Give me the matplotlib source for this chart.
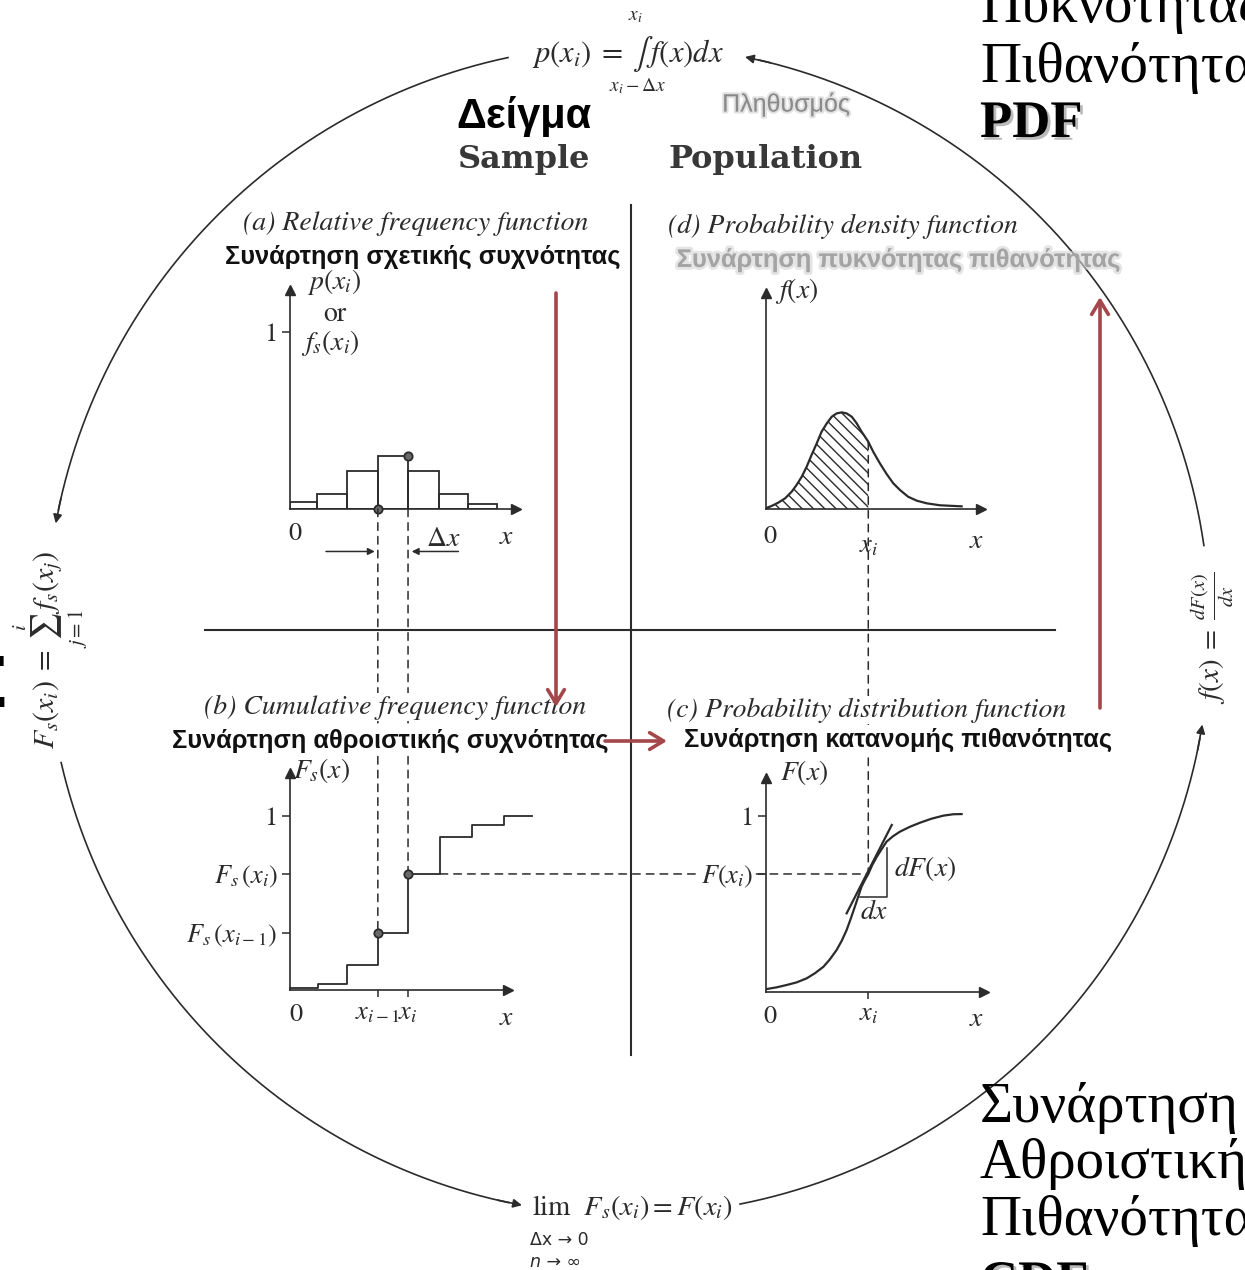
import numpy as np
import matplotlib.pyplot as plt
import matplotlib.patheffects as pe
from matplotlib.patches import ConnectionPatch

plt.rcParams['mathtext.fontset'] = 'stix'
plt.rcParams['font.family'] = ['STIXGeneral', 'DejaVu Sans']

W, H = 1245, 1270
ink = '#2b2b2b'
red = '#a3474a'

# DATA (x in bin widths, y in probability)
## (a) relative frequency histogram
rel_edges = [0.0, 0.9, 1.87, 2.88, 3.87, 4.88, 5.85, 6.8]
rel_freq = [0.04, 0.085, 0.215, 0.30, 0.215, 0.085, 0.03]
## (b) cumulative frequency steps
cum_x = [0.0, 0.92, 1.88, 2.88, 3.87, 4.92, 5.96, 7.0, 7.92]
cum_f = [0.01, 0.033, 0.144, 0.33, 0.667, 0.877, 0.948, 1.0, 1.0]
## (c) probability distribution function
cdf_x = [0.0, 0.37, 0.69, 1.02, 1.35, 1.62, 1.90, 2.11, 2.33, 2.50, 2.66, 2.80, 2.93, 3.04, 3.15, 3.26,
         3.37, 3.50, 3.65, 3.81, 3.97, 4.19, 4.41, 4.74, 5.07, 5.45, 5.83, 6.16, 6.43]
cdf_y = [0.014, 0.025, 0.038, 0.053, 0.076, 0.105, 0.142, 0.184, 0.237, 0.290, 0.351, 0.418, 0.484, 0.541,
         0.598, 0.636, 0.670, 0.721, 0.768, 0.812, 0.854, 0.886, 0.911, 0.939, 0.962, 0.985, 1.002, 1.010, 1.011]
tan_x = [2.66, 4.14]
tan_y = [0.446, 0.949]
tri_x = [3.10, 3.97, 3.97]
tri_y = [0.541, 0.541, 0.816]
## (d) probability density function
pdf_x = [0.0, 0.20, 0.42, 0.64, 0.86, 1.02, 1.19, 1.35, 1.51, 1.68, 1.84, 2.01, 2.17, 2.33, 2.50, 2.66,
         2.83, 2.99, 3.15, 3.37, 3.53, 3.75, 3.97, 4.19, 4.41, 4.68, 4.96, 5.29, 5.72, 6.43]
pdf_y = [0.004, 0.017, 0.036, 0.060, 0.098, 0.136, 0.183, 0.239, 0.305, 0.371, 0.437, 0.484, 0.521, 0.540,
         0.546, 0.540, 0.521, 0.484, 0.437, 0.380, 0.324, 0.258, 0.198, 0.145, 0.107, 0.069, 0.047, 0.032,
         0.021, 0.015]
## marked points
x_prev, x_i = 2.88, 3.87          # sample x_{i-1}, x_i
Fs_prev, Fs_i = 0.33, 0.667       # F_s(x_{i-1}), F_s(x_i)
xi_pop, F_xi = 3.37, 0.670        # population x_i, F(x_i)

fig = plt.figure(figsize=(W / 100, H / 100), dpi=100)

# BACKGROUND LAYER (pixel coords)
ov = fig.add_axes([0, 0, 1, 1])
ov.set_xlim(0, W)
ov.set_ylim(H, 0)
ov.axis('off')

##big circle in four arrowed arcs
cx, cy, rx, ry = 628, 630, 582, 585
for a0, a1 in [(101.9, 169.5), (193.1, 259.5), (281.1, 350.7), (8.3, 78.4)]:
    t = np.radians(np.linspace(a0, a1, 300))
    xs = cx + rx * np.cos(t)
    ys = cy - ry * np.sin(t)
    ov.plot(xs[:-6], ys[:-6], color=ink, lw=1.2)
    ov.annotate('', xy=(xs[-1], ys[-1]), xytext=(xs[-12], ys[-12]),
                arrowprops=dict(arrowstyle='-|>', color=ink, lw=1.2, mutation_scale=13, shrinkA=0, shrinkB=0))

##dividers
ov.plot([631, 631], [205, 1055], color=ink, lw=1.5)
ov.plot([205, 1055], [630, 630], color=ink, lw=1.5)

##formulas round the circle
ov.text(532, 62, r'$p(x_i)\;=\;\int\,f(x)dx$', fontsize=22, color=ink, va='baseline')
ov.text(635, 16, r'$x_i$', fontsize=14, color=ink, ha='center', va='center')
ov.text(638, 86, r'$x_i-\Delta x$', fontsize=14, color=ink, ha='center', va='center')
ov.text(50, 650, r'$F_s(x_i)\;=\sum_{j=1}^{i}f_s(x_j)$', fontsize=21.5, color=ink, rotation=90,
        ha='center', va='center')
ov.text(1213, 638, r'$f(x)\;=\;\frac{dF(x)}{dx}$', fontsize=21, color=ink, rotation=90,
        ha='center', va='center')
ov.text(532, 1215, r'$\mathrm{lim}\ \ F_s(x_i) = F(x_i)$', fontsize=20.5, color=ink, va='baseline')
ov.text(530, 1240, 'Δx → 0', fontsize=12.5, color=ink, va='center', family='DejaVu Sans')
ov.text(530, 1262, 'n → ∞', fontsize=12.5, color=ink, va='center', family='DejaVu Sans', style='italic')

##headings
ov.text(592, 128, 'Δείγμα', family='Liberation Sans', weight='bold', fontsize=30, ha='right', va='baseline')
ov.text(590, 168, 'Sample', family='DejaVu Serif', weight='bold', fontsize=23, color='#383838',
        ha='right', va='baseline')
ov.text(668, 168, 'Population', family='DejaVu Serif', weight='bold', fontsize=23, color='#383838',
        ha='left', va='baseline')
ov.text(786, 104, 'Πληθυσμός', family='Liberation Sans', fontsize=18, color='#8a8a8a', ha='center',
        va='center', path_effects=[pe.Stroke(linewidth=3, foreground='#cfcfcf', alpha=0.6), pe.Normal()])
ov.text(898, 260, 'Συνάρτηση πυκνότητας πιθανότητας', family='Liberation Sans', weight='bold', fontsize=18.3,
        color='#a4a4a4', ha='center', va='center',
        path_effects=[pe.Stroke(linewidth=4, foreground='#d4d4d4', alpha=0.6), pe.Normal()])

##slide text on the right edge
shadow = [pe.withSimplePatchShadow(offset=(2, -2), shadow_rgbFace='#777777', alpha=0.5)]
for s, y in [('Πυκνότητας', 22), ('Πιθανότητα', 82)]:
    ov.text(980, y, s, family='Liberation Serif', fontsize=41, va='baseline')
ov.text(980, 137, 'PDF', family='Liberation Serif', weight='bold', fontsize=38, va='baseline', path_effects=shadow)
for s, y in [('Συνάρτηση', 1122), ('Αθροιστικής', 1178), ('Πιθανότητα', 1235)]:
    ov.text(980, y, s, family='Liberation Serif', fontsize=41, va='baseline')
ov.text(980, 1297, 'CDF', family='Liberation Serif', weight='bold', fontsize=38, va='baseline', path_effects=shadow)
ov.text(9, 707, 'Σ', family='DejaVu Sans', weight='bold', fontsize=50, ha='right', va='baseline')


# PANELS
def panel(ox, oy, xmax, ymax, uy, ux=30.5):
    ax = fig.add_axes([ox / W, 1 - oy / H, xmax * ux / W, ymax * uy / H])
    ax.set_xlim(0, xmax)
    ax.set_ylim(0, ymax)
    ax.patch.set_visible(False)
    ax.spines[['top', 'right']].set_visible(False)
    ax.spines[['left', 'bottom']].set_color(ink)
    ax.spines[['left', 'bottom']].set_linewidth(1.2)
    ax.plot(1, 0, '>', color=ink, ms=7, transform=ax.get_yaxis_transform(), clip_on=False)
    ax.plot(0, 1, '^', color=ink, ms=7, transform=ax.get_xaxis_transform(), clip_on=False)
    ax.set_xticks([])
    ax.set_yticks([])
    ax.tick_params(colors=ink, labelsize=19, length=6, width=1.1, pad=3)
    return ax


def ends(ax, zero_off, x_off):
    ax.annotate('0', xy=(0, 0), xytext=zero_off, textcoords='offset pixels', fontsize=19, color=ink,
                ha='center', va='center')
    ax.annotate(r'$x$', xy=(1, 0), xycoords='axes fraction', xytext=x_off, textcoords='offset pixels',
                fontsize=20, color=ink, ha='center', va='center')


def link(axA, pA, axB, pB, host):
    con = ConnectionPatch(pA, pB, coordsA=axA.transData, coordsB=axB.transData, color=ink, lw=1.1,
                          ls=(0, (5, 4)), zorder=1, clip_on=False)
    host.add_artist(con)


dot = dict(marker='o', ms=6, mfc='#6a6a6a', mec=ink, mew=1.3, ls='none', zorder=4, clip_on=False)
lab = dict(fontsize=20, color=ink, ha='center', va='center')

##(a) relative frequency
axa = panel(290, 509, 7.4, 1.24, 177)
axa.bar(rel_edges[:-1], rel_freq, width=np.diff(rel_edges), align='edge', fill=False, edgecolor=ink, lw=1.3)
axa.plot([x_prev, x_i], [0, rel_freq[3]], **dot)
axa.set_yticks([1], ['1'])
ends(axa, (5, -25), (-9, -28))
axa.text(1.44, 1.28, r'$p(x_i)$', **lab)
axa.text(1.48, 1.10, 'or', **lab)
axa.text(1.31, 0.94, r'$f_s(x_i)$', **lab)
axa.annotate('', xy=(x_prev - 0.1, -0.24), xytext=(x_prev - 1.7, -0.24), annotation_clip=False,
             arrowprops=dict(arrowstyle='-|>', color=ink, lw=1.1, mutation_scale=10, shrinkA=0, shrinkB=0))
axa.annotate('', xy=(x_i + 0.12, -0.24), xytext=(x_i + 1.65, -0.24), annotation_clip=False,
             arrowprops=dict(arrowstyle='-|>', color=ink, lw=1.1, mutation_scale=10, shrinkA=0, shrinkB=0))
axa.text(x_i + 1.15, -0.17, r'$\Delta x$', **lab)

##(b) cumulative frequency
axb = panel(290, 990, 7.15, 1.247, 174)
axb.step(cum_x, cum_f, where='post', color=ink, lw=1.3, clip_on=False)
axb.plot([x_prev, x_i], [Fs_prev, Fs_i], **dot)
axb.set_yticks([1, Fs_i, Fs_prev], ['1', r'$F_s\,(x_i)$', r'$F_s\,(x_{i-1})$'])
axb.set_xticks([x_prev, x_i], [r'$x_{i-1}$', r'$x_i$'])
axb.tick_params(axis='x', length=5)
ends(axb, (6, -25), (-1, -28))
axb.text(1.05, 1.26, r'$F_s(x)$', **lab)
link(axa, (x_prev, 0), axb, (x_prev, Fs_prev), axb)
link(axa, (x_i, 0), axb, (x_i, Fs_i), axb)

##(c) probability distribution function
axc = panel(765.5, 991.7, 7.18, 1.217, 175.7)
axc.plot(cdf_x, cdf_y, color=ink, lw=1.6)
axc.plot(tan_x, tan_y, color=ink, lw=1.6)
axc.plot(tri_x, tri_y, color=ink, lw=1.1)
axc.set_yticks([1, F_xi], ['1', r'$F(x_i)$'])
axc.set_xticks([xi_pop], [r'$x_i$'])
axc.tick_params(axis='x', length=5)
for t in axc.get_yticklabels():
    t.set_bbox(dict(facecolor='white', edgecolor='none', pad=1))
ends(axc, (4, -25), (-8, -28))
axc.text(1.26, 1.25, r'$F(x)$', **lab)
axc.text(4.2, 0.70, r'$dF(x)$', fontsize=20, color=ink, ha='left', va='center')
axc.text(3.55, 0.45, r'$dx$', **lab)
link(axb, (cum_x[5], Fs_i), axc, (xi_pop, F_xi), axc)

##(d) probability density function
axd = panel(765.5, 509, 7.05, 1.22, 177)
k = pdf_x.index(xi_pop) + 1
shade = axd.fill_between(pdf_x[:k], pdf_y[:k], 0, facecolor='none', lw=0)
##hatch lines at 45 deg on screen (one y unit = 177/30.5 x units), clipped to the shaded area
slope = 177 / 30.5
hh = 0.6
for x0 in np.arange(0.1, xi_pop + hh * slope, 0.37):
    hl, = axd.plot([x0, x0 - hh * slope], [0, hh], color=ink, lw=1.0)
    hl.set_clip_path(shade.get_paths()[0], axd.transData)
axd.plot(pdf_x, pdf_y, color=ink, lw=1.6)
axd.set_xticks([xi_pop], [r'$x_i$'])
axd.tick_params(axis='x', length=0, pad=18)
ends(axd, (4, -28), (-4, -32))
axd.text(1.03, 1.23, r'$f(x)$', **lab)
link(axd, (xi_pop, pdf_y[k - 1]), axc, (xi_pop, F_xi), axc)

# TOP LAYER: titles and red arrows
top = fig.add_axes([0, 0, 1, 1], zorder=3)
top.set_xlim(0, W)
top.set_ylim(H, 0)
top.axis('off')
wbox = dict(facecolor='white', edgecolor='none', pad=1)
titles = [(416, 224, '(a) Relative frequency function', 'Συνάρτηση σχετικής συχνότητας', 423, 257),
          (395, 707, '(b) Cumulative frequency function', 'Συνάρτηση αθροιστικής συχνότητας', 390, 741),
          (867, 710, '(c) Probability distribution function', 'Συνάρτηση κατανομής πιθανότητας', 898, 740),
          (843, 226, '(d) Probability density function', None, 0, 0)]
for x, y, en, gr, gx, gy in titles:
    top.text(x, y, en, style='italic', fontsize=20, color=ink, ha='center', va='center', bbox=wbox)
    if gr:
        top.text(gx, gy, gr, family='Liberation Sans', weight='bold', fontsize=18.3, color='#111111',
                 ha='center', va='center', bbox=wbox)

red_arrow = dict(arrowstyle='->,head_length=1.0,head_width=0.6', color=red, lw=2.6, shrinkA=0, shrinkB=0)
top.annotate('', xy=(556, 707), xytext=(556, 293), arrowprops=red_arrow)
top.annotate('', xy=(667, 741), xytext=(605, 741), arrowprops=red_arrow)
top.annotate('', xy=(1100, 297), xytext=(1100, 708), arrowprops=red_arrow)

plt.savefig('out.png', dpi=100)
